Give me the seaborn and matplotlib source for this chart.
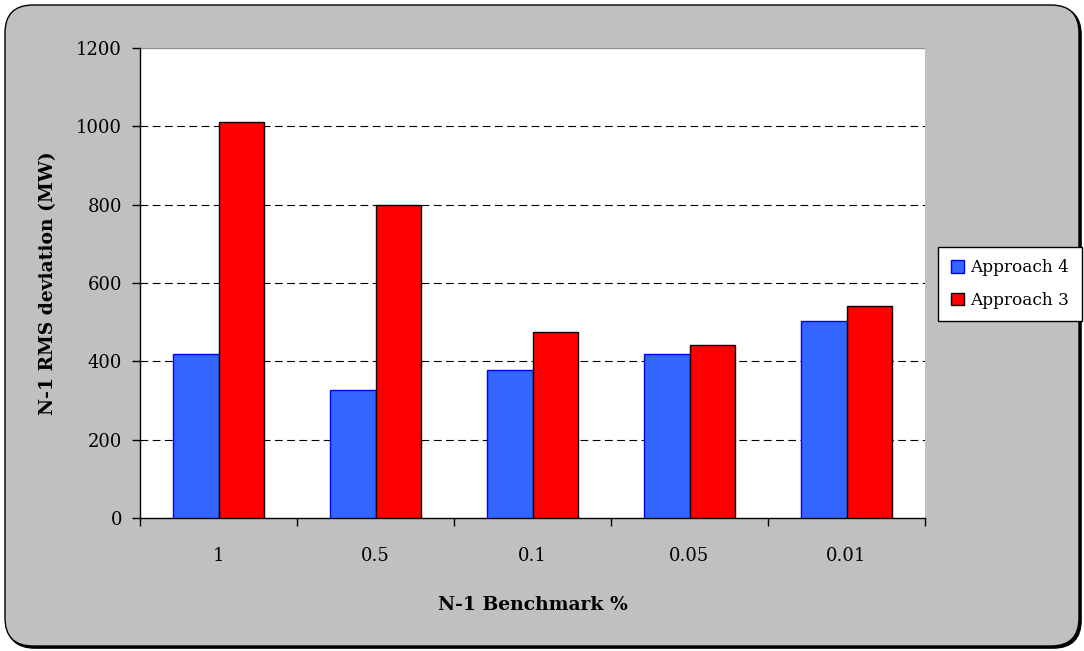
import matplotlib
matplotlib.use("Agg")
import matplotlib.pyplot as plt
from matplotlib.patches import FancyBboxPatch, Patch
import seaborn as sns
import pandas as pd
import numpy as np

categories = ["1", "0.5", "0.1", "0.05", "0.01"]
approach4 = [420, 328, 378, 420, 504]
approach3 = [1010, 800, 474, 442, 541]
series_names = ["Approach 4", "Approach 3"]
y_ticks = [0, 200, 400, 600, 800, 1000, 1200]

df = pd.DataFrame({
    "benchmark": categories * 2,
    "value": approach4 + approach3,
    "series": [series_names[0]] * len(categories) + [series_names[1]] * len(categories),
})

sns.set_theme(style="white")
plt.rcParams["font.family"] = ["DejaVu Serif"]
plt.rcParams["text.color"] = "black"
plt.rcParams["axes.labelcolor"] = "black"
plt.rcParams["xtick.color"] = "black"
plt.rcParams["ytick.color"] = "black"

fig = plt.figure(figsize=(10.84, 6.51), dpi=100)
fig.patch.set_facecolor("white")

# rounded gray background with shadow
shadow = FancyBboxPatch((0.07, 0.03), 10.74, 6.41,
                        boxstyle="round,pad=0,rounding_size=0.28",
                        transform=fig.dpi_scale_trans, facecolor="#000000",
                        edgecolor="#000000", linewidth=1.2, zorder=-2)
bg = FancyBboxPatch((0.05, 0.05), 10.74, 6.41,
                    boxstyle="round,pad=0,rounding_size=0.28",
                    transform=fig.dpi_scale_trans, facecolor="#C0C0C0",
                    edgecolor="#000000", linewidth=1.0, zorder=-1)
fig.patches.extend([shadow, bg])

ax = fig.add_axes([140 / 1084, 1 - 518 / 651, 785 / 1084, 470 / 651])
ax.set_facecolor("white")

colors = {"Approach 4": "#3366FF", "Approach 3": "#FF0000"}
edges = {"Approach 4": "#0000FF", "Approach 3": "#000000"}
sns.barplot(data=df, x="benchmark", y="value", hue="series", order=categories,
            hue_order=series_names, palette=colors, width=0.575, saturation=1,
            ax=ax, legend=False, zorder=3)
for cont, name in zip(ax.containers, series_names):
    for bar in cont:
        bar.set_edgecolor(edges[name])
        bar.set_linewidth(1.0)

ax.set_ylim(0, 1200)
ax.set_xlim(-0.5, len(categories) - 0.5)
ax.set_yticks(y_ticks)
ax.set_yticklabels([str(v) for v in y_ticks])

# gridlines
for v in y_ticks[1:-1]:
    ax.axhline(v, color="black", linewidth=0.8, linestyle=(0, (7, 4)), zorder=1)
ax.axhline(1200, color="#909090", linewidth=1.0, zorder=1)

# x ticks at boundaries, labels at centers
ax.set_xticks(np.arange(-0.5, len(categories), 1.0))
ax.set_xticklabels([])
ax.set_xticks(np.arange(len(categories)), minor=True)
ax.set_xticklabels(categories, minor=True)
ax.tick_params(axis="x", which="major", direction="out", length=6, width=1, color="black", bottom=True)
ax.tick_params(axis="x", which="minor", length=0, pad=21, labelsize=13)
ax.tick_params(axis="y", direction="out", length=6, width=1, color="black", left=True, pad=7, labelsize=13)

for s in ["top", "right"]:
    ax.spines[s].set_visible(False)
for s in ["left", "bottom"]:
    ax.spines[s].set_color("black")
    ax.spines[s].set_linewidth(1.0)

ax.set_xlabel("N-1 Benchmark %", fontsize=13.5, fontweight="bold")
ax.set_ylabel("N-1 RMS deviation (MW)", fontsize=13.5, fontweight="bold")
ax.xaxis.set_label_coords(0.5, -0.166)
ax.yaxis.set_label_coords(-0.106, 0.5)

handles = [Patch(facecolor=colors[n], edgecolor=edges[n], linewidth=1.0, label=n) for n in series_names]
leg = fig.legend(handles=handles, loc="center", bbox_to_anchor=(1010 / 1084, 1 - 284 / 651),
                 fontsize=12.2, frameon=True, fancybox=False, framealpha=1, handlelength=0.75,
                 handleheight=0.75, handletextpad=0.4, borderpad=0.75, labelspacing=0.9,
                 borderaxespad=0)
leg.get_frame().set_edgecolor("black")
leg.get_frame().set_linewidth(1.0)
leg.get_frame().set_facecolor("white")

fig.savefig("out.png", dpi=100, facecolor=fig.get_facecolor())
